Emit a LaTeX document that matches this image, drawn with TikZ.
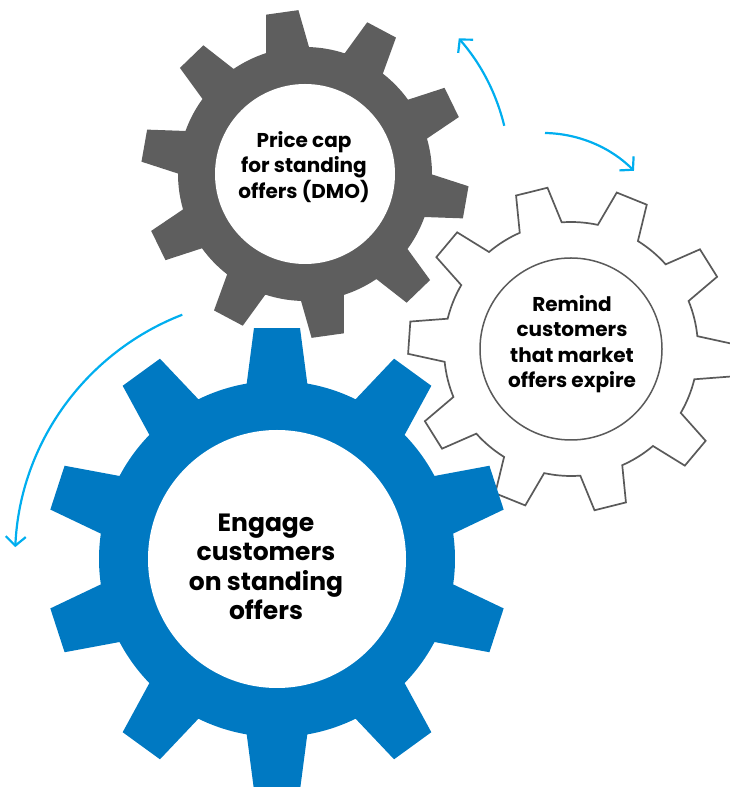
\documentclass[tikz,border=0pt]{standalone}
\usepackage{fontspec}
\setmainfont{Poppins}
\usepackage{tikz}
\usetikzlibrary{arrows.meta}

\definecolor{cogblue}{HTML}{0079C2}
\definecolor{coggray}{HTML}{5E5E5E}
\definecolor{cogline}{HTML}{5A5A5A}
\definecolor{flowcyan}{HTML}{00AEEF}

\newcommand{\cogpath}[3]{%
  ({#1-9.8}:#2) \foreach \k in {0,...,9}{
    -- ({#1+36*\k-5.7}:#3) -- ({#1+36*\k+5.7}:#3) -- ({#1+36*\k+9.8}:#2)
    arc[start angle={#1+36*\k+9.8}, delta angle=16.4, radius=#2]} -- cycle}

\begin{document}
\begin{tikzpicture}[x=1pt, y=1pt,
  cogtext/.style={align=center, font=\bfseries\fontsize{20}{25.5}\selectfont},
  hole/.style={circle, fill=white, inner sep=0pt},
  flow/.style={flowcyan, line width=2.2pt, -{Straight Barb[length=9pt,width=20pt]}}]
\useasboundingbox (0,0) rectangle (730,787);
\begin{scope}[shift={(571,438)}]
\draw[cogline, fill=white, line width=1.7pt] \cogpath{104}{127}{163};
\end{scope}
\begin{scope}[shift={(305,613)}]
\fill[coggray] \cogpath{98}{127}{164};
\end{scope}
\begin{scope}[shift={(277,228)}]
\fill[cogblue] \cogpath{90}{178}{232};
\end{scope}
\node[hole, minimum size=180pt] (dmo) at (305,613) {};
\node[hole, draw=cogline, line width=1.5pt, minimum size=182pt] (remind) at (571,438) {};
\node[hole, minimum size=258pt] (engage) at (277,228) {};
\node[cogtext] (dmotext) at (304,620) {Price cap\\for standing\\offers (DMO)};
\node[cogtext] (remindtext) at (572,443) {Remind\\customers\\that market\\offers expire};
\node[cogtext, font=\bfseries\fontsize{25}{29.5}\selectfont] (engagetext) at (266,220) {Engage\\customers\\on standing\\offers};
\draw[flow] ([shift={(13.6:205)}]dmo.center) arc[start angle=13.6, end angle=41.4, radius=205];
\draw[flow] (545,654) arc[start angle=89, end angle=45, radius=129];
\draw[flow] ([shift={(111.2:262)}]engage.center) arc[start angle=111.2, end angle=177.4, radius=262];
\end{tikzpicture}
\end{document}
